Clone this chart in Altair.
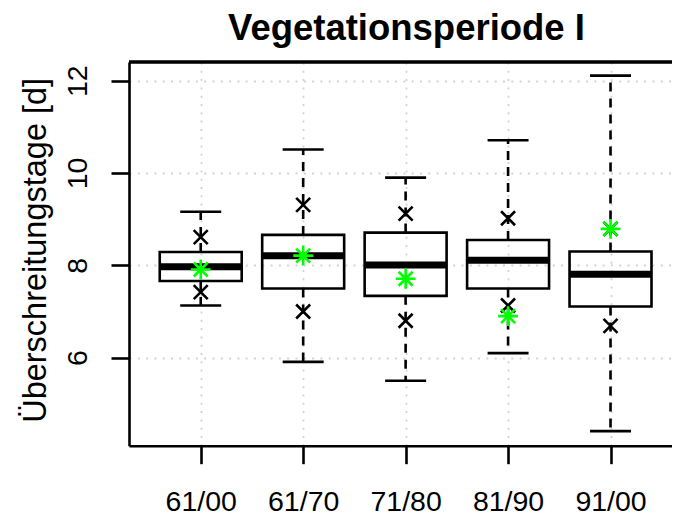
import altair as alt
import pandas as pd

categories = ["61/00", "61/70", "71/80", "81/90", "91/00"]
whisker_low = [7.13, 5.91, 5.50, 6.10, 4.41]
q1 = [7.66, 7.50, 7.34, 7.50, 7.11]
median = [7.97, 8.21, 8.01, 8.11, 7.81]
q3 = [8.29, 8.66, 8.71, 8.55, 8.30]
whisker_high = [9.16, 10.51, 9.90, 10.71, 12.11]
cross_high = [8.61, 9.31, 9.12, 9.02, 8.79]
cross_low = [7.42, 7.00, 6.80, 7.13, 6.69]
star_vals = [7.91, 8.21, 7.71, 6.90, 8.79]

W = 543
H = 383.7
BOXW = 0.4
STAPLE = 0.2
LW = 2.6
FONT = "Liberation Sans"

pos = list(range(1, len(categories) + 1))
df = pd.DataFrame({
    "pos": pos,
    "cat": categories,
    "wl": whisker_low,
    "q1": q1,
    "med": median,
    "q3": q3,
    "wh": whisker_high,
    "xh": cross_high,
    "xl": cross_low,
    "star": star_vals,
})
df["lo"] = df["pos"] - BOXW
df["hi"] = df["pos"] + BOXW
df["slo"] = df["pos"] - STAPLE
df["shi"] = df["pos"] + STAPLE

label_arr = "[" + ",".join("'%s'" % c for c in categories) + "]"

xscale = alt.Scale(domain=[0.3, 5.6], nice=False, zero=False)
yscale = alt.Scale(domain=[4.094, 12.405], nice=False, zero=False)

grid_kw = dict(grid=True, gridColor="#d3d3d3", gridDash=[2, 6.3], gridWidth=1.8)

xaxis = alt.Axis(values=pos, labelExpr=label_arr + "[datum.value-1]", title=None,
                 tickSize=18, tickWidth=LW, tickColor="black", domainWidth=LW, domainColor="black",
                 labelFontSize=28.5, labelFont=FONT, labelColor="black", labelPadding=47,
                 labelBaseline="alphabetic", labelFlush=False, labelOverlap=False, labelBound=False,
                 **grid_kw)
yaxis = alt.Axis(values=[6, 8, 10, 12], title="Überschreitungstage [d]",
                 tickSize=18, tickWidth=LW, tickColor="black", domainWidth=LW, domainColor="black",
                 labelFontSize=28.5, labelFont=FONT, labelColor="black", labelAngle=-90,
                 labelAlign="center", labelBaseline="alphabetic", labelPadding=25,
                 labelFlush=False, labelOverlap=False, labelBound=False,
                 titleFont=FONT, titleFontSize=32.5, titleFontWeight="normal", titleColor="black",
                 titleAngle=-90, titleBaseline="alphabetic", titleAlign="center",
                 titleX=-84, titleY=H / 2 - 4, **grid_kw)

base = alt.Chart(df)

boxes = base.mark_rect(fillOpacity=0, stroke="black", strokeWidth=LW).encode(
    x=alt.X("lo:Q", scale=xscale, axis=xaxis),
    x2="hi:Q",
    y=alt.Y("q1:Q", scale=yscale, axis=yaxis),
    y2="q3:Q",
)
medians = base.mark_rule(color="black", strokeWidth=7).encode(
    x=alt.X("lo:Q", scale=xscale), x2="hi:Q", y=alt.Y("med:Q", scale=yscale))
whisk_up = base.mark_rule(color="black", strokeWidth=LW, strokeDash=[9, 7]).encode(
    x=alt.X("pos:Q", scale=xscale), y=alt.Y("q3:Q", scale=yscale), y2="wh:Q")
whisk_dn = base.mark_rule(color="black", strokeWidth=LW, strokeDash=[9, 7]).encode(
    x=alt.X("pos:Q", scale=xscale), y=alt.Y("q1:Q", scale=yscale), y2="wl:Q")
staple_up = base.mark_rule(color="black", strokeWidth=LW).encode(
    x=alt.X("slo:Q", scale=xscale), x2="shi:Q", y=alt.Y("wh:Q", scale=yscale))
staple_dn = base.mark_rule(color="black", strokeWidth=LW).encode(
    x=alt.X("slo:Q", scale=xscale), x2="shi:Q", y=alt.Y("wl:Q", scale=yscale))

xpath = "M -1 -1 L 1 1 M -1 1 L 1 -1"
starpath = ("M -1 0 L 1 0 M 0 -1 L 0 1 M -0.7071 -0.7071 L 0.7071 0.7071 "
            "M -0.7071 0.7071 L 0.7071 -0.7071")

cross_hi = base.mark_point(shape=xpath, size=196, filled=False, stroke="black",
                           strokeWidth=LW, opacity=1).encode(
    x=alt.X("pos:Q", scale=xscale), y=alt.Y("xh:Q", scale=yscale))
cross_lo = base.mark_point(shape=xpath, size=196, filled=False, stroke="black",
                           strokeWidth=LW, opacity=1).encode(
    x=alt.X("pos:Q", scale=xscale), y=alt.Y("xl:Q", scale=yscale))
stars = base.mark_point(shape=starpath, size=392, filled=False, stroke="#00ff00",
                        strokeWidth=LW, opacity=1).encode(
    x=alt.X("pos:Q", scale=xscale), y=alt.Y("star:Q", scale=yscale))

topline = alt.Chart(df).mark_rule(color="black", strokeWidth=LW).encode(
    x=alt.value(0), x2=alt.value(W), y=alt.value(0))

chart = alt.layer(boxes, medians, whisk_up, whisk_dn, staple_up, staple_dn,
                  cross_hi, cross_lo, stars, topline).properties(
    width=W, height=H,
    autosize=alt.AutoSizeParams(type="none"),
    padding={"left": 121, "top": 54, "right": 0, "bottom": 73},
    title=alt.TitleParams("Vegetationsperiode I", fontSize=36.5, font=FONT, fontWeight="bold",
                          color="black", anchor="middle", frame="group", dx=6, dy=38,
                          baseline="alphabetic", offset=22),
).configure_view(stroke=None).configure(background="white")

chart.save("out.html", embed_options={"renderer": "svg", "actions": False})
